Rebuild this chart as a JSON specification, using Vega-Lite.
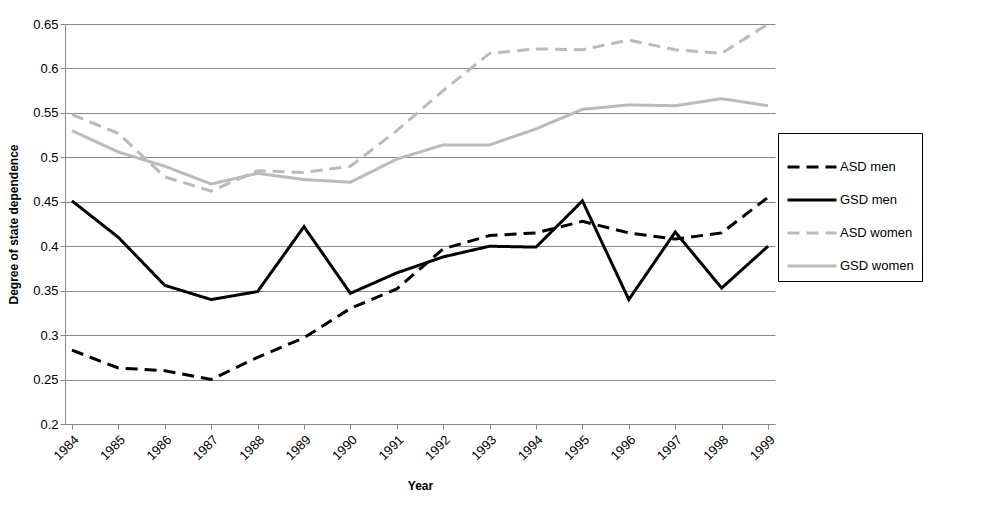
{
  "$schema": "https://vega.github.io/schema/vega-lite/v6.json",
  "width": 710,
  "height": 400,
  "autosize": "none",
  "padding": {"left": 65, "top": 24, "right": 231, "bottom": 88},
  "background": "white",
  "config": {"view": {"stroke": null}, "font": "Liberation Sans"},
  "datasets": {
    "raw": [
      {"Year": "1984", "ASD men": 0.283, "GSD men": 0.451, "ASD women": 0.548, "GSD women": 0.530},
      {"Year": "1985", "ASD men": 0.263, "GSD men": 0.410, "ASD women": 0.527, "GSD women": 0.506},
      {"Year": "1986", "ASD men": 0.260, "GSD men": 0.356, "ASD women": 0.478, "GSD women": 0.490},
      {"Year": "1987", "ASD men": 0.250, "GSD men": 0.340, "ASD women": 0.462, "GSD women": 0.470},
      {"Year": "1988", "ASD men": 0.275, "GSD men": 0.349, "ASD women": 0.485, "GSD women": 0.482},
      {"Year": "1989", "ASD men": 0.297, "GSD men": 0.422, "ASD women": 0.483, "GSD women": 0.475},
      {"Year": "1990", "ASD men": 0.330, "GSD men": 0.347, "ASD women": 0.490, "GSD women": 0.472},
      {"Year": "1991", "ASD men": 0.352, "GSD men": 0.370, "ASD women": 0.530, "GSD women": 0.498},
      {"Year": "1992", "ASD men": 0.397, "GSD men": 0.388, "ASD women": 0.575, "GSD women": 0.514},
      {"Year": "1993", "ASD men": 0.412, "GSD men": 0.400, "ASD women": 0.617, "GSD women": 0.514},
      {"Year": "1994", "ASD men": 0.415, "GSD men": 0.399, "ASD women": 0.622, "GSD women": 0.532},
      {"Year": "1995", "ASD men": 0.428, "GSD men": 0.451, "ASD women": 0.621, "GSD women": 0.554},
      {"Year": "1996", "ASD men": 0.415, "GSD men": 0.340, "ASD women": 0.632, "GSD women": 0.559},
      {"Year": "1997", "ASD men": 0.408, "GSD men": 0.416, "ASD women": 0.621, "GSD women": 0.558},
      {"Year": "1998", "ASD men": 0.415, "GSD men": 0.353, "ASD women": 0.617, "GSD women": 0.566},
      {"Year": "1999", "ASD men": 0.455, "GSD men": 0.400, "ASD women": 0.650, "GSD women": 0.558}
    ]
  },
  "data": {"name": "raw"},
  "transform": [
    {"fold": ["ASD men", "GSD men", "ASD women", "GSD women"], "as": ["Series", "Value"]}
  ],
  "mark": {"type": "line", "strokeWidth": 3},
  "encoding": {
    "x": {
      "field": "Year", "type": "ordinal",
      "scale": {"type": "point", "padding": 0.15},
      "axis": {"title": "Year", "titleFontSize": 12, "titleFontWeight": "bold", "labelAngle": -45, "labelAlign": "right", "labelFontSize": 13, "labelColor": "black", "domainColor": "#888", "tickColor": "#888", "titlePadding": 18, "labelPadding": 4}
    },
    "y": {
      "field": "Value", "type": "quantitative",
      "scale": {"domain": [0.2, 0.65], "nice": false},
      "axis": {"title": "Degree of state dependence", "format": ".2~f", "titleFontSize": 12, "titleFontWeight": "bold", "labelFontSize": 13, "labelColor": "black", "tickCount": 10, "gridColor": "#888", "domainColor": "#888", "tickColor": "#888", "titlePadding": 12}
    },
    "color": {
      "field": "Series", "type": "nominal",
      "scale": {"domain": ["ASD men", "GSD men", "ASD women", "GSD women"], "range": ["black", "black", "#bbbbbb", "#bbbbbb"]},
      "legend": {"title": null, "orient": "none", "legendX": 713, "legendY": 109, "labelFontSize": 13, "labelColor": "black", "symbolType": "stroke", "symbolSize": 2400, "symbolStrokeWidth": 3, "rowPadding": -10, "strokeColor": "black", "padding": 8, "labelOffset": 2}
    },
    "strokeDash": {
      "field": "Series", "type": "nominal",
      "scale": {"domain": ["ASD men", "GSD men", "ASD women", "GSD women"], "range": [[12, 7], [1, 0], [12, 7], [1, 0]]},
      "legend": null
    }
  }
}
